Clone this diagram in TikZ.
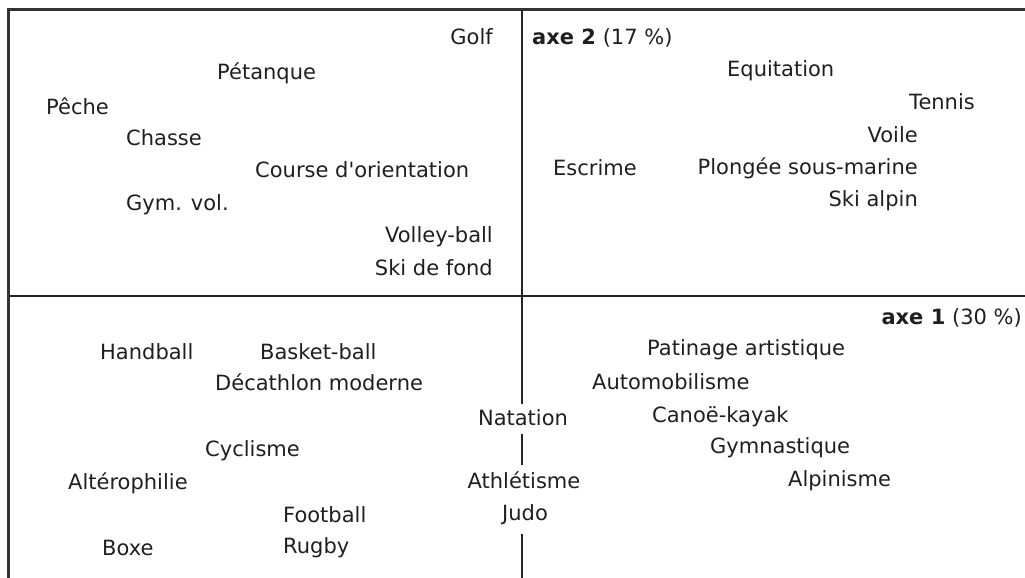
\documentclass[tikz,border=0pt]{standalone}
\usepackage{fontspec}
\setmainfont{DejaVu Sans}
\usepackage{tikz}

\tikzset{
	sport/.style={font=\fontsize{21}{25}\selectfont,text=black!88,inner sep=0pt},
	frameline/.style={draw=black!80,line width=3pt},
	axisline/.style={draw=black!85,line width=1.8pt}
}

\begin{document}
\begin{tikzpicture}[x=1pt,y=-1pt]
		\useasboundingbox (0,0) rectangle (1025,578);
		
		% cadre
		\draw[frameline] (8,578) -- (8,10) -- (1025,10);
		
		% quadrant haut gauche
		\node[sport,anchor=base east] (golf) at (493,45){Golf};
		\node[sport,anchor=base west] (petanque) at (217,80){Pétanque};
		\node[sport,anchor=base west] (peche) at (46,114){Pêche};
		\node[sport,anchor=base west] (chasse) at (126,145){Chasse};
		\node[sport,anchor=base west] (course) at (255,177){Course d\textquotesingle orientation};
		\node[sport,anchor=base west] (gymvol) at (126,210){Gym. vol.};
		\node[sport,anchor=base east] (volley) at (493,242){Volley-ball};
		\node[sport,anchor=base east] (skifond) at (493,275){Ski de fond};
		
		% quadrant haut droit
		\node[sport,anchor=base west] (axedeux) at (532,45){\textbf{axe 2} (17 \%)};
		\node[sport,anchor=base west] (equitation) at (727,77){Equitation};
		\node[sport,anchor=base east] (tennis) at (975,109){Tennis};
		\node[sport,anchor=base east] (voile) at (918,142){Voile};
		\node[sport,anchor=base west] (escrime) at (553,175){Escrime};
		\node[sport,anchor=base east] (plongee) at (918,174){Plongée sous-marine};
		\node[sport,anchor=base east] (skialpin) at (918,206){Ski alpin};
		
		% quadrant bas gauche
		\node[sport,anchor=base west] (handball) at (100,359){Handball};
		\node[sport,anchor=base west] (basket) at (260,359){Basket-ball};
		\node[sport,anchor=base west] (decathlon) at (215,390){Décathlon moderne};
		\node[sport,anchor=base west] (cyclisme) at (205,456){Cyclisme};
		\node[sport,anchor=base west] (altero) at (68,489){Altérophilie};
		\node[sport,anchor=base west] (football) at (283,522){Football};
		\node[sport,anchor=base west] (boxe) at (102,555){Boxe};
		\node[sport,anchor=base west] (rugby) at (283,553){Rugby};
		
		% sur l'axe 2
		\node[sport,anchor=base] (natation) at (523,425){Natation};
		\node[sport,anchor=base] (athletisme) at (524,488){Athlétisme};
		\node[sport,anchor=base] (judo) at (525,520){Judo};
		
		% quadrant bas droit
		\node[sport,anchor=base east] (axeun) at (1022,324){\textbf{axe 1} (30 \%)};
		\node[sport,anchor=base west] (patinage) at (647,355){Patinage artistique};
		\node[sport,anchor=base west] (automobile) at (592,389){Automobilisme};
		\node[sport,anchor=base west] (canoe) at (652,422){Canoë-kayak};
		\node[sport,anchor=base west] (gymnastique) at (710,453){Gymnastique};
		\node[sport,anchor=base west] (alpinisme) at (788,486){Alpinisme};
		
		% axes
		\coordinate (xleft) at (9,296);
		\coordinate (xright) at (1025,296);
		\coordinate (ytop) at (522,10);
		\coordinate (ybottom) at (522,578);
		\draw[axisline] (xleft) -- (xright);
		\draw[axisline] (ytop) -- ([yshift=5pt]ytop |- natation.north);
		\draw[axisline] ([yshift=-8pt]ytop |- natation.south) -- ([yshift=6pt]ytop |- athletisme.north);
		\draw[axisline] ([yshift=-10pt]ytop |- judo.south) -- (ybottom);
	\end{tikzpicture}
\end{document}
